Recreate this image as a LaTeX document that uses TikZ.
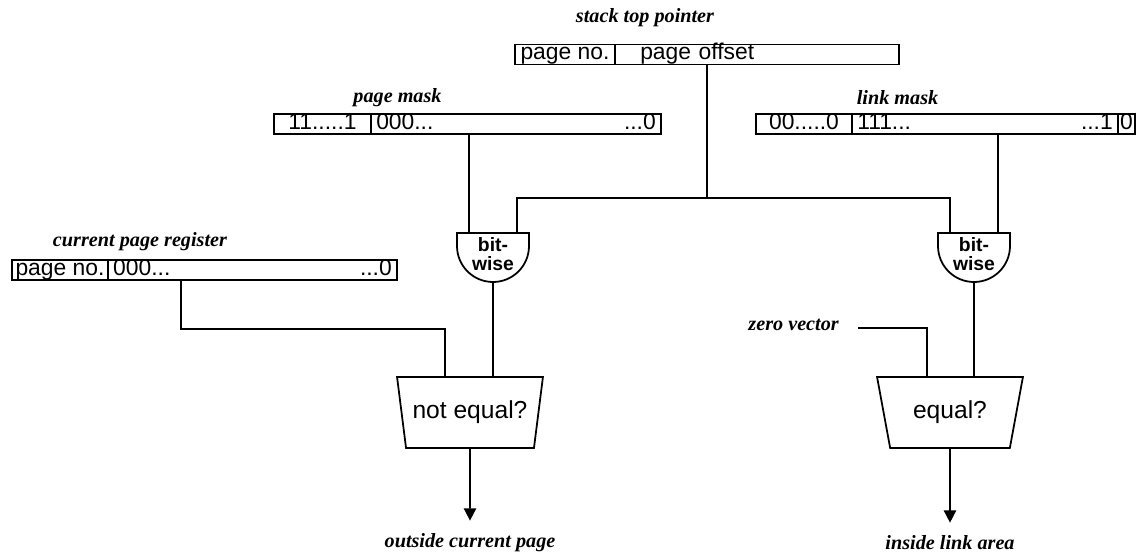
\documentclass[tikz,border=0pt]{standalone}
\usepackage{fontspec}
\setmainfont{Liberation Serif}
\setsansfont{Liberation Sans}
\usetikzlibrary{arrows.meta,shapes.geometric,calc}

\begin{document}
\begin{tikzpicture}[
  wire/.style={line width=0.9pt},
  flow/.style={line width=0.9pt, -{Triangle[width=7pt,length=7pt]}, shorten >=0.14cm},
  cell/.style={draw, line width=1.1pt, minimum height=0.4cm, inner xsep=3pt, inner ysep=0.3pt,
    text height=8.4pt, text depth=2.4pt, font=\sffamily\fontsize{13}{13}\selectfont},
  title/.style={font=\bfseries\itshape\fontsize{11.5}{13}\selectfont},
  gatetext/.style={font=\sffamily\bfseries\fontsize{11}{10.5}\selectfont, align=center, inner sep=0pt},
  cmpbox/.style={draw, line width=1pt, trapezium, shape border rotate=180, trapezium stretches=true,
    trapezium angle=70.6, minimum width=2.92cm, minimum height=1.42cm, inner sep=0pt,
    font=\sffamily\fontsize{14}{14}\selectfont}
]
  \useasboundingbox (0,0) rectangle (22.88,-11.06);

  % registers and masks
  \node[title] (sptitle) at (12.9,-0.36) {stack top pointer};
  \node[cell, minimum width=2cm, inner xsep=1pt] (spno) at (11.3,-1.09) {page no.};
  \node[cell, minimum width=5.68cm, text width=5.47cm] (spoff) at (15.14,-1.09) {\hspace*{0.4cm}page offset};

  \node[title] (pmtitle) at (7.95,-1.96) {page mask};
  \node[cell, minimum width=1.94cm] (pmhigh) at (6.45,-2.48) {11.....1};
  \node[cell, minimum width=5.8cm, text width=5.59cm] (pmlow) at (10.32,-2.48) {000...\hfill...0};

  \node[title] (lmtitle) at (17.95,-1.96) {link mask};
  \node[cell, minimum width=1.92cm] (lmhigh) at (16.08,-2.48) {00.....0};
  \node[cell, minimum width=5.32cm, text width=5.11cm] (lmmid) at (19.7,-2.48) {111...\hfill...1};
  \node[cell, minimum width=0.34cm, inner xsep=0pt] (lmlow) at (22.53,-2.48) {0};

  \node[title] (crtitle) at (2.8,-4.84) {current page register};
  \node[cell, minimum width=1.92cm, inner xsep=1pt] (crno) at (1.2,-5.4) {page no.};
  \node[cell, minimum width=5.78cm, text width=5.57cm] (crval) at (5.05,-5.4) {000...\hfill...0};

  % bit-wise gates
  \coordinate (andLtop) at (9.86,-4.66);
  \coordinate (andRtop) at (19.48,-4.66);
  \foreach \g in {andLtop,andRtop}
    \draw[wire, line width=1pt] ($(\g)+(-0.72,0)$) -- ++(0,-0.26)
      arc[start angle=180, end angle=360, radius=0.72] -- ++(0,0.26) -- cycle;
  \node[gatetext] (andL) at ($(andLtop)+(0,-0.42)$) {bit-\\wise};
  \node[gatetext] (andR) at ($(andRtop)+(0,-0.42)$) {bit-\\wise};

  % comparators
  \node[cmpbox] (cmpL) at (9.4,-8.25) {not equal?};
  \node[cmpbox] (cmpR) at (19.0,-8.25) {equal?};
  \node[title] (zero) [anchor=base east] at (16.9,-6.62) {zero vector};

  % results
  \node[title] (outside) at (9.4,-10.86) {outside current page};
  \node[title] (inside) at (19.0,-10.86) {inside link area};

  % wiring
  \coordinate (sp) at ($(spno.south west)!0.5!(spoff.south east)$);
  \coordinate (split) at ($(sp)+(0,-2.65)$);
  \coordinate (inLa) at ($(andLtop)+(-0.48,0)$);
  \coordinate (inLb) at ($(andLtop)+(0.48,0)$);
  \coordinate (inRa) at ($(andRtop)+(-0.48,0)$);
  \coordinate (inRb) at ($(andRtop)+(0.48,0)$);
  \coordinate (inCLa) at ($(cmpL.north)+(-0.5,0)$);
  \coordinate (inCLb) at ($(cmpL.north)+(0.46,0)$);
  \coordinate (inCRa) at ($(cmpR.north)+(-0.46,0)$);
  \coordinate (inCRb) at ($(cmpR.north)+(0.48,0)$);

  \draw[wire] (sp) -- (split);
  \draw[wire] (inLb) |- (split) -| (inRa);
  \draw[wire] (pmlow.south -| inLa) -- (inLa);
  \draw[wire] (lmmid.south -| inRb) -- (inRb);
  \draw[wire] ($(andLtop)+(0,-0.98)$) -- (inCLb);
  \draw[wire] ($(andRtop)+(0,-0.98)$) -- (inCRb);
  \draw[wire] ($(crval.south west)+(1.48,0)$) |- ($(inCLa)+(0,0.94)$) -- (inCLa);
  \draw[wire] ($(zero.base east)+(0.26,0.06)$) -| (inCRa);
  \draw[flow] (cmpL.south) -- (outside.north);
  \draw[flow] (cmpR.south) -- (inside.north);
\end{tikzpicture}
\end{document}
